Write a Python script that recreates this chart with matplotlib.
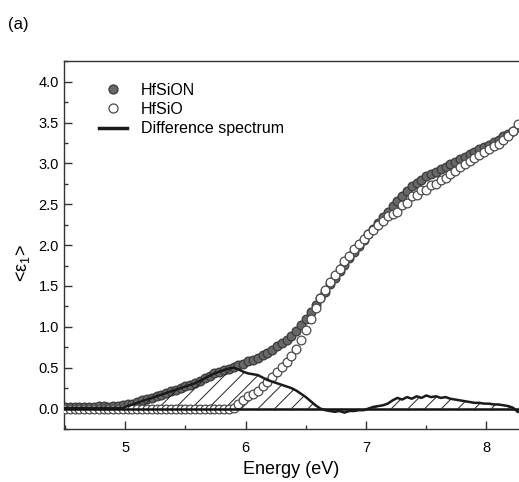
import matplotlib
matplotlib.use('Agg')
import matplotlib.pyplot as plt
from matplotlib.ticker import MultipleLocator
from matplotlib.lines import Line2D

plt.rcParams['font.family'] = ['Liberation Sans', 'DejaVu Sans']
plt.rcParams['mathtext.fontset'] = 'custom'
plt.rcParams['mathtext.rm'] = 'Liberation Sans'
plt.rcParams['mathtext.it'] = 'Liberation Sans:italic'
plt.rcParams['hatch.linewidth'] = 0.7

# photon energy (eV)
energy = [4.50, 4.54, 4.58, 4.62, 4.66, 4.70, 4.74, 4.78, 4.82, 4.86,
          4.90, 4.94, 4.98, 5.02, 5.06, 5.10, 5.14, 5.18, 5.22, 5.26,
          5.30, 5.34, 5.38, 5.42, 5.46, 5.50, 5.54, 5.58, 5.62, 5.66,
          5.70, 5.74, 5.78, 5.82, 5.86, 5.90, 5.94, 5.98, 6.02, 6.06,
          6.10, 6.14, 6.18, 6.22, 6.26, 6.30, 6.34, 6.38, 6.42, 6.46,
          6.50, 6.54, 6.58, 6.62, 6.66, 6.70, 6.74, 6.78, 6.82, 6.86,
          6.90, 6.94, 6.98, 7.02, 7.06, 7.10, 7.14, 7.18, 7.22, 7.26,
          7.30, 7.34, 7.38, 7.42, 7.46, 7.50, 7.54, 7.58, 7.62, 7.66,
          7.70, 7.74, 7.78, 7.82, 7.86, 7.90, 7.94, 7.98, 8.02, 8.06,
          8.10, 8.14, 8.18, 8.22, 8.26]

# <eps1> of HfSiON film
hfsion = [0.02, 0.02, 0.02, 0.02, 0.02, 0.02, 0.02, 0.03, 0.03, 0.02,
          0.03, 0.03, 0.04, 0.05, 0.06, 0.08, 0.10, 0.12, 0.13, 0.15,
          0.17, 0.19, 0.21, 0.23, 0.25, 0.27, 0.29, 0.31, 0.34, 0.37,
          0.40, 0.43, 0.45, 0.47, 0.49, 0.51, 0.53, 0.55, 0.58, 0.60,
          0.62, 0.65, 0.68, 0.72, 0.76, 0.80, 0.84, 0.89, 0.95, 1.02,
          1.10, 1.18, 1.27, 1.35, 1.43, 1.52, 1.60, 1.68, 1.76, 1.84,
          1.92, 1.99, 2.06, 2.13, 2.20, 2.27, 2.34, 2.41, 2.48, 2.54,
          2.60, 2.66, 2.72, 2.76, 2.80, 2.84, 2.87, 2.90, 2.93, 2.96,
          2.99, 3.02, 3.05, 3.08, 3.11, 3.14, 3.17, 3.20, 3.23, 3.26,
          3.29, 3.33, 3.36, 3.40, 3.44]

# <eps1> of HfSiO film
hfsio = [-0.01, -0.01, -0.01, -0.01, -0.01, -0.01, -0.01, -0.01, -0.01, -0.01,
         -0.01, -0.01, -0.01, -0.01, -0.01, -0.01, -0.01, -0.01, -0.01, -0.01,
         -0.01, -0.01, -0.01, -0.01, -0.01, -0.01, -0.01, -0.01, -0.01, -0.01,
         -0.01, -0.01, -0.01, -0.01, -0.01, 0.01, 0.05, 0.10, 0.15, 0.18,
         0.21, 0.27, 0.33, 0.39, 0.45, 0.51, 0.57, 0.64, 0.73, 0.84,
         0.96, 1.09, 1.23, 1.35, 1.45, 1.55, 1.64, 1.71, 1.81, 1.87,
         1.95, 2.01, 2.08, 2.13, 2.18, 2.24, 2.30, 2.35, 2.38, 2.41,
         2.49, 2.52, 2.60, 2.61, 2.67, 2.68, 2.73, 2.75, 2.80, 2.82,
         2.87, 2.91, 2.95, 2.99, 3.03, 3.07, 3.10, 3.14, 3.17, 3.21,
         3.24, 3.29, 3.33, 3.39, 3.48]

# difference spectrum HfSiON - HfSiO
diff = [0.01, 0.01, 0.01, 0.01, 0.01, 0.01, 0.01, 0.01, 0.01, 0.01,
        0.01, 0.01, 0.01, 0.03, 0.05, 0.07, 0.09, 0.11, 0.13, 0.15,
        0.17, 0.19, 0.21, 0.23, 0.25, 0.27, 0.29, 0.31, 0.34, 0.37,
        0.40, 0.43, 0.45, 0.47, 0.49, 0.50, 0.48, 0.45, 0.43, 0.42,
        0.41, 0.38, 0.35, 0.33, 0.31, 0.29, 0.27, 0.25, 0.22, 0.18,
        0.14, 0.09, 0.04, 0.00, -0.02, -0.03, -0.04, -0.03, -0.05, -0.03,
        -0.03, -0.02, -0.02, 0.00, 0.02, 0.03, 0.04, 0.06, 0.10, 0.13,
        0.11, 0.14, 0.12, 0.15, 0.13, 0.16, 0.14, 0.15, 0.13, 0.14,
        0.12, 0.11, 0.10, 0.09, 0.08, 0.07, 0.07, 0.06, 0.06, 0.05,
        0.05, 0.04, 0.03, 0.01, -0.04]

fig = plt.figure(figsize=(5.19, 4.82), dpi=100)
ax = fig.add_axes([0.123, 0.110, 0.877, 0.763])

ax.plot(energy, hfsion, 'o', ms=6.3, mfc='#686868', mec='#3a3a3a', mew=0.9, zorder=2)
ax.fill_between(energy, diff, 0, facecolor='none', edgecolor='#222222',
                hatch='//', linewidth=0, zorder=3)
ax.plot(energy, hfsio, 'o', ms=6.3, mfc='white', mec='#4a4a4a', mew=0.9, zorder=4)
ax.axhline(0, color='#111111', lw=1.8, zorder=5)
ax.plot(energy, diff, color='#1a1a1a', lw=1.8, zorder=6)

ax.set_xlim(4.49, 8.27)
ax.set_ylim(-0.25, 4.25)
ax.xaxis.set_major_locator(MultipleLocator(1))
ax.xaxis.set_minor_locator(MultipleLocator(0.5))
ax.yaxis.set_major_locator(MultipleLocator(0.5))
ax.yaxis.set_minor_locator(MultipleLocator(0.25))
ax.yaxis.set_major_formatter(plt.FormatStrFormatter('%.1f'))
ax.tick_params(which='both', direction='in', labelsize=10.5, color='#333333')
ax.tick_params(which='major', length=6, width=1.0)
ax.tick_params(which='minor', length=3, width=1.0)
ax.tick_params(axis='x', pad=9)
for side in ['left', 'bottom', 'top']:
    ax.spines[side].set_linewidth(1.0)
    ax.spines[side].set_color('#333333')
ax.spines['right'].set_visible(False)

ax.set_xlabel('Energy (eV)', fontsize=13, labelpad=4)
ax.set_ylabel('<ε$_1$>', fontsize=13)
ax.yaxis.set_label_coords(-0.07, 0.45)

handles = [
    Line2D([], [], ls='none', marker='o', ms=6.5, mfc='#686868', mec='#3a3a3a', mew=0.9),
    Line2D([], [], ls='none', marker='o', ms=6.5, mfc='white', mec='#4a4a4a', mew=0.9),
    Line2D([], [], color='#1a1a1a', lw=2.5),
]
ax.legend(handles, ['HfSiON', 'HfSiO', 'Difference spectrum'], loc='upper left',
          bbox_to_anchor=(0.078, 0.942), frameon=False, fontsize=11.5,
          borderpad=0, borderaxespad=0, handlelength=1.75, handletextpad=0.85,
          labelspacing=0.28)

fig.text(0.015, 0.94, '(a)', fontsize=12)

fig.savefig('out.png', dpi=100)
